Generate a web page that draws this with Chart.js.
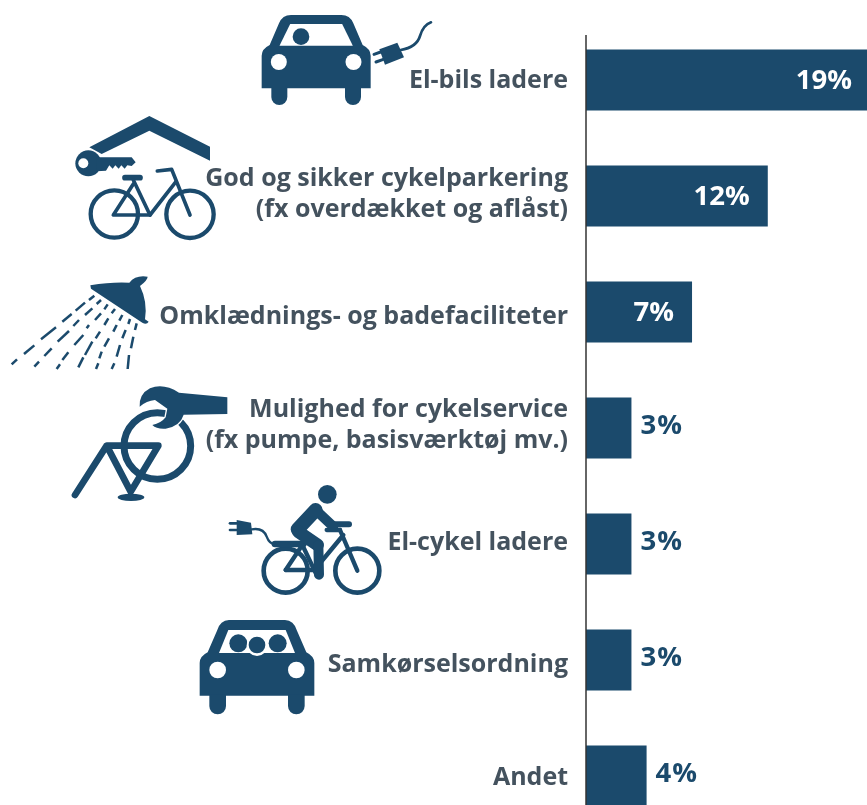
<!DOCTYPE html>
<html lang="da">
<head>
<meta charset="utf-8">
<title>Faciliteter</title>
<script src="https://cdn.jsdelivr.net/npm/chart.js@4"></script>
<style>
html,body{margin:0;padding:0;background:#fff;overflow:hidden;height:805px}
canvas{display:block}
</style>
</head>
<body>
<canvas id="c" width="867" height="834"></canvas>
<script>
const categories = [
  "El-bils ladere",
  ["God og sikker cykelparkering", "(fx overdækket og aflåst)"],
  "Omklædnings- og badefaciliteter",
  ["Mulighed for cykelservice", "(fx pumpe, basisværktøj mv.)"],
  "El-cykel ladere",
  "Samkørselsordning",
  "Andet"
];
const values = [19, 12, 7, 3, 3, 3, 4];
const valueSuffix = "%";
const NAVY = "#1b4a6c", GREY = "#44525e";

/* ---- pictograms: each is drawn in its own local coordinates ---- */
function inFrame(ctx, ox, oy, fn){
  ctx.save(); ctx.translate(ox, oy); ctx.scale(1/3, 1/3);
  ctx.fillStyle = NAVY; ctx.strokeStyle = NAVY; ctx.lineCap = "round"; ctx.lineJoin = "round";
  fn(ctx); ctx.restore();
}
function seg(ctx, pts, w){
  ctx.lineWidth = w; ctx.beginPath();
  pts.forEach((p,i)=> i ? ctx.lineTo(p[0],p[1]) : ctx.moveTo(p[0],p[1]));
  ctx.stroke();
}
function poly(ctx, pts){
  ctx.beginPath();
  pts.forEach((p,i)=> i ? ctx.lineTo(p[0],p[1]) : ctx.moveTo(p[0],p[1]));
  ctx.closePath(); ctx.fill();
}
function dot(ctx, x, y, r, col){
  ctx.save(); if(col) ctx.fillStyle = col;
  ctx.beginPath(); ctx.arc(x,y,r,0,Math.PI*2); ctx.fill(); ctx.restore();
}
function ring(ctx, x, y, r, w){
  ctx.lineWidth = w; ctx.beginPath(); ctx.arc(x,y,r,0,Math.PI*2); ctx.stroke();
}
function carBody(ctx, L, R, T, S, B, W, wheelW, winTL, winBL, winT, lampY, lampX, lampR){
  const c = (L+R)/2;
  ctx.beginPath();
  ctx.moveTo(L,B); ctx.lineTo(L,S+32);
  ctx.quadraticCurveTo(L,S+12,L+24,S);
  ctx.lineTo(L+52,S-65);
  ctx.quadraticCurveTo(L+62,T,L+88,T);
  ctx.lineTo(R-88,T);
  ctx.quadraticCurveTo(R-62,T,R-52,S-65);
  ctx.lineTo(R-24,S);
  ctx.quadraticCurveTo(R,S+12,R,S+32);
  ctx.lineTo(R,B); ctx.closePath(); ctx.fill();
  const r = wheelW/2;
  [L+29+r, R-29-r].forEach(x=>{
    ctx.beginPath(); ctx.moveTo(x-r,B-4); ctx.lineTo(x-r,W-r);
    ctx.arc(x,W-r,r,Math.PI,0,true); ctx.lineTo(x+r,B-4); ctx.closePath(); ctx.fill();
  });
  ctx.save(); ctx.fillStyle="#fff";
  ctx.beginPath();
  ctx.moveTo(c-winBL,S+2); ctx.lineTo(c-winTL,winT); ctx.lineTo(c+winTL,winT); ctx.lineTo(c+winBL,S+2); ctx.closePath(); ctx.fill();
  ctx.restore();
  dot(ctx,c-lampX,lampY,lampR,"#fff"); dot(ctx,c+lampX,lampY,lampR,"#fff");
}

function iconCharger(ctx){
  inFrame(ctx,250,10,c=>{
    carBody(c,35,362,15,105,235,285,48,78,110,42,156,112,24);
    dot(c,153,80,25);
    poly(c,[[388,118],[442,98],[462,142],[405,164]]);
    seg(c,[[372,133],[392,126]],9);
    seg(c,[[378,156],[398,149]],9);
    c.lineWidth=8; c.beginPath(); c.moveTo(452,120);
    c.quadraticCurveTo(500,112,510,78); c.quadraticCurveTo(520,45,543,37); c.stroke();
  });
}
function iconParking(ctx){
  inFrame(ctx,70,110,c=>{
    poly(c,[[58,112],[238,18],[420,110],[420,152],[238,62],[95,132]]);
    dot(c,55,160,39);
    dot(c,40,160,15,"#fff");
    poly(c,[[80,142],[185,142],[197,157],[185,168],[172,166],[164,176],[154,166],[146,176],[136,166],[128,176],[118,166],[108,182],[80,184]]);
    ring(c,133,312,71,13); ring(c,360,313,71,13);
    seg(c,[[165,203],[210,203]],17);
    seg(c,[[190,210],[240,315]],11);
    seg(c,[[190,222],[130,315],[240,315],[318,215]],11);
    seg(c,[[262,183],[305,178],[360,315]],11);
  });
}
function iconShower(ctx){
  inFrame(ctx,5,270,c=>{
    c.beginPath(); c.moveTo(256,46);
    c.quadraticCurveTo(320,35,373,38);
    c.quadraticCurveTo(392,14,428,20);
    c.quadraticCurveTo(428,30,405,48);
    c.quadraticCurveTo(428,95,420,148);
    c.lineTo(431,155); c.quadraticCurveTo(425,165,412,158);
    c.lineTo(258,56); c.closePath(); c.fill();
    const rays = [
      [[268,77,252,90],[240,98,212,122],[200,132,172,155],[153,172,108,208],[88,226,57,252],[36,268,20,283]],
      [[288,90,275,102],[262,115,240,135],[222,150,205,168],[192,183,158,215],[140,235,118,258],[102,275,88,290]],
      [[308,103,298,118],[288,130,270,150],[252,165,245,175],[235,195,208,225],[190,247,172,270],[165,283,155,297]],
      [[330,117,320,130],[310,145,298,165],[285,185,272,205],[262,215,240,255],[235,262,220,292]],
      [[352,135,343,152],[335,165,325,185],[312,205,298,230],[290,245,283,265],[280,280,273,297]],
      [[375,147,370,162],[362,180,352,205],[345,225,335,260],[328,280,320,297]],
      [[395,160,390,180],[385,200,378,235],[372,255,368,297]]
    ];
    c.lineCap="butt"; c.lineWidth=7.5;
    rays.forEach(r=>r.forEach(s=>{c.beginPath();c.moveTo(s[0],s[1]);c.lineTo(s[2],s[3]);c.stroke();}));
  });
}
function iconService(ctx){
  inFrame(ctx,65,380,c=>{
    ring(c,277,198,100,21);
    seg(c,[[30,345],[125,197],[280,197],[197,335],[125,197]],20);
    c.beginPath(); c.ellipse(198,352,40,11,0,0,Math.PI*2); c.fill();
    c.beginPath(); c.moveTo(224,80);
    c.quadraticCurveTo(222,42,255,25);
    c.quadraticCurveTo(295,8,342,38);
    c.lineTo(487,52); c.lineTo(487,102); c.lineTo(356,104);
    c.quadraticCurveTo(346,138,302,146);
    c.quadraticCurveTo(275,148,262,135);
    c.quadraticCurveTo(288,130,302,112);
    c.lineTo(307,86); c.lineTo(270,60);
    c.quadraticCurveTo(245,62,224,80); c.closePath();
    c.save(); c.strokeStyle="#fff"; c.lineWidth=8; c.stroke(); c.restore(); c.fill();
  });
}
function iconEbike(ctx){
  inFrame(ctx,225,480,c=>{
    ring(c,182,272,66,14); ring(c,397,272,66,14);
    seg(c,[[182,270],[232,195],[275,285]],13);
    seg(c,[[182,270],[268,270],[355,165]],13);
    seg(c,[[345,150],[397,272]],13);
    seg(c,[[305,150],[345,150]],13);
    seg(c,[[150,192],[235,192]],20);
    poly(c,[[35,120],[78,128],[82,163],[35,165]]);
    seg(c,[[15,130],[35,130]],8);
    seg(c,[[15,150],[35,150]],8);
    c.lineWidth=7; c.beginPath(); c.moveTo(80,148);
    c.quadraticCurveTo(115,142,125,170); c.quadraticCurveTo(133,192,152,195); c.stroke();
    dot(c,307,43,28);
    seg(c,[[325,133],[372,133]],18);
    seg(c,[[274,92],[325,140]],30);
    c.save(); c.strokeStyle="#fff"; seg(c,[[248,158],[285,180]],8); c.restore();
    seg(c,[[272,90],[218,148]],42);
    seg(c,[[220,155],[278,195]],38);
    seg(c,[[280,195],[282,284]],30);
  });
}
function iconCarpool(ctx){
  inFrame(ctx,195,615,c=>{
    carBody(c,14,358,15,112,242,298,50,86,114,45,165,118,25);
    dot(c,130,85,27); dot(c,248,85,27);
    dot(c,186,92,31,"#fff"); dot(c,186,90,25);
  });
}
const pictograms = [iconCharger, iconParking, iconShower, iconService, iconEbike, iconCarpool];

/* small vertical nudges of the axis labels, as set in the original layout */
const labelNudge = [1, -2, 5, -3, -1, 5, 2];

const decor = {
  id: "decor",
  beforeDraw(chart){
    const items = chart.scales.y.getLabelItems();
    if (items.nudged) return;
    items.forEach((it,i)=>{ it.options.translation[1] += labelNudge[i]; });
    items.nudged = true;
  },
  afterDraw(chart){
    const ctx = chart.ctx, x = chart.scales.x, y = chart.scales.y;
    pictograms.forEach(fn=>fn(ctx));
    ctx.save();
    ctx.strokeStyle="#333"; ctx.lineWidth=1.5;
    ctx.beginPath(); ctx.moveTo(x.left, 35); ctx.lineTo(x.left, y.bottom); ctx.stroke();
    ctx.font = "700 27.5px 'Open Sans'"; ctx.textBaseline="middle";
    const meta = chart.getDatasetMeta(0);
    values.forEach((v,i)=>{
      const bar = meta.data[i], big = v >= 7;
      ctx.fillStyle = big ? "#fff" : NAVY;
      ctx.textAlign = big ? "right" : "left";
      ctx.letterSpacing = big ? "0px" : "1px";
      const px = big ? Math.min(bar.x, x.right) - (v===19?15:18) : bar.x + 9;
      ctx.fillText(v + valueSuffix, px, bar.y + (big ? 1 : -2));
    });
    ctx.restore();
  }
};

new Chart(document.getElementById("c"), {
  type: "bar",
  data: { labels: categories, datasets: [{ data: values, backgroundColor: NAVY, borderWidth: 0, barPercentage: 0.526, categoryPercentage: 1 }] },
  options: {
    indexAxis: "y",
    responsive: false,
    animation: false,
    layout: { padding: { top: 22, left: 0, right: 0, bottom: 0 } },
    plugins: { legend: { display: false }, tooltip: { enabled: false } },
    scales: {
      x: { display: false, min: 0, max: 18.55, grid: { display: false } },
      y: {
        afterFit(s){ s.width = 586; s.paddingTop = 0; s.paddingBottom = 0; },
        grid: { display: false, drawTicks: false },
        border: { display: false },
        ticks: { autoSkip: false, padding: 18, color: GREY, font: { family: "'Open Sans'", weight: 700, size: 25, lineHeight: 1.24 } }
      }
    }
  },
  plugins: [decor]
});
</script>
</body>
</html>
